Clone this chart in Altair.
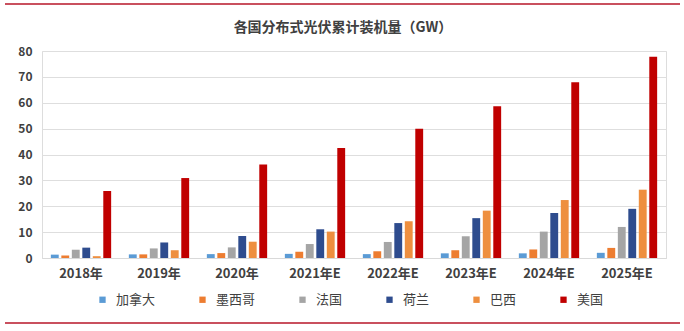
import altair as alt
import pandas as pd

years = ["2018年", "2019年", "2020年", "2021年E", "2022年E", "2023年E", "2024年E", "2025年E"]
countries = ["加拿大", "墨西哥", "法国", "荷兰", "巴西", "美国"]
canada = [1.3, 1.4, 1.5, 1.6, 1.5, 1.8, 1.8, 2.0]
mexico = [1.0, 1.4, 1.9, 2.4, 2.6, 3.0, 3.3, 3.9]
france = [3.2, 3.7, 4.1, 5.4, 6.2, 8.4, 10.2, 12.0]
netherlands = [4.0, 6.0, 8.5, 11.1, 13.5, 15.4, 17.4, 19.0]
brazil = [0.7, 3.0, 6.3, 10.2, 14.2, 18.3, 22.4, 26.4]
usa = [25.9, 30.9, 36.1, 42.5, 50.0, 58.6, 67.9, 77.8]
colors = ["#5B9BD5", "#ED7D31", "#A5A5A5", "#2E4C8E", "#EE8F3F", "#C00000"]
title_text = "各国分布式光伏累计装机量（GW）"

series = [canada, mexico, france, netherlands, brazil, usa]
rows = []
for c, vals in zip(countries, series):
    for y, v in zip(years, vals):
        rows.append({"year": y, "country": c, "value": v})
df = pd.DataFrame(rows)

FONT = "Noto Sans CJK SC"

bars = alt.Chart(df).mark_bar().encode(
    x=alt.X("year:N", sort=years, title=None,
            scale=alt.Scale(paddingInner=0.2, paddingOuter=0.1),
            axis=alt.Axis(labelAngle=0, labelFontSize=13, labelFontWeight="bold",
                          labelColor="#404040", labelPadding=9, ticks=False,
                          domainColor="#D9D9D9", labelFont=FONT)),
    xOffset=alt.XOffset("country:N", sort=countries,
                        scale=alt.Scale(paddingInner=0.25, paddingOuter=0.1)),
    y=alt.Y("value:Q", title=None,
            scale=alt.Scale(domain=[0, 80], nice=False),
            axis=alt.Axis(values=list(range(0, 90, 10)), labelFontSize=12,
                          labelFontWeight="bold", labelColor="#404040",
                          labelPadding=10, ticks=False, domain=False,
                          gridColor="#DEDEDE", labelFont=FONT)),
    color=alt.Color("country:N", sort=countries,
                    scale=alt.Scale(domain=countries, range=colors),
                    legend=alt.Legend(title=None, orient="none", direction="horizontal",
                                      legendX=54, legendY=242, symbolType="square",
                                      symbolSize=40, symbolStrokeWidth=0,
                                      labelFontSize=13, labelColor="#404040",
                                      labelFont=FONT, columnPadding=40,
                                      labelOffset=7, padding=0)),
)

dummy = pd.DataFrame({"a": [0]})
top_line = alt.Chart(dummy).mark_rule(color="#C9505E", strokeWidth=2).encode(
    x=alt.value(-37), x2=alt.value(638), y=alt.value(-47))
bottom_line = alt.Chart(dummy).mark_rule(color="#C9505E", strokeWidth=2).encode(
    x=alt.value(-37), x2=alt.value(638), y=alt.value(272))
title = alt.Chart(dummy).mark_text(
    text=title_text, font=FONT, fontSize=14, fontWeight="bold", color="#404040",
    align="center", baseline="middle").encode(x=alt.value(301), y=alt.value(-23))

chart = alt.layer(bars, top_line, bottom_line, title).properties(
    width=624, height=207,
    autosize=alt.AutoSizeParams(type="none"),
    padding={"left": 42, "top": 51, "right": 18, "bottom": 73},
).configure_view(stroke=None).configure(background="white")

chart.save("out.html", embed_options={"renderer": "svg", "actions": False})
